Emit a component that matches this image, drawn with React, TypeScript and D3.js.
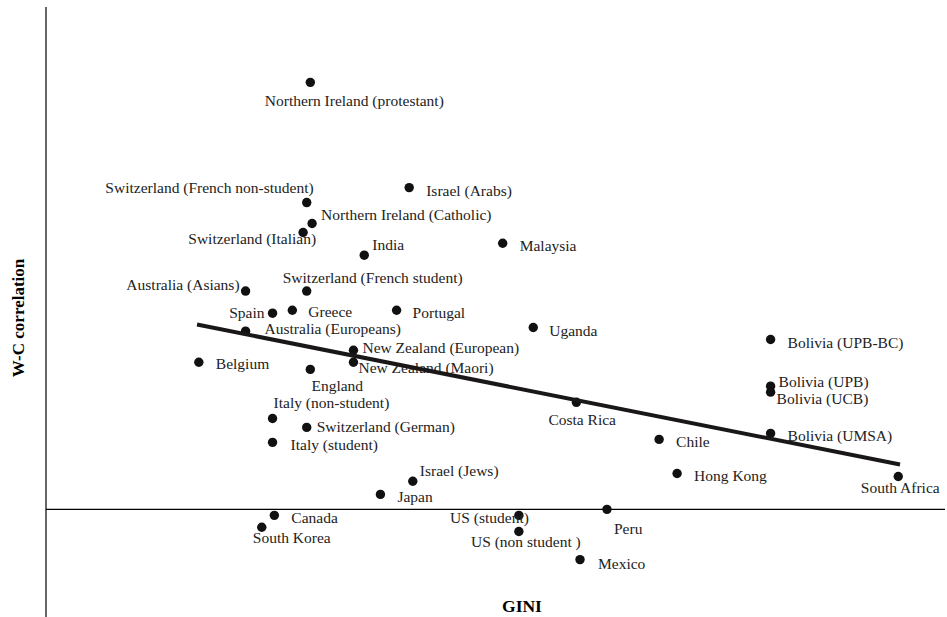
import React, { useEffect, useRef } from "react";
import * as d3 from "d3";

// samples, GINI index and within-culture (W-C) correlation
const names = [
  "Northern Ireland (protestant)", "Switzerland (French non-student)", "Israel (Arabs)",
  "Northern Ireland (Catholic)", "Switzerland (Italian)", "India", "Malaysia",
  "Australia (Asians)", "Switzerland (French student)", "Spain", "Greece", "Portugal",
  "Australia (Europeans)", "Uganda", "Bolivia (UPB-BC)", "Belgium", "New Zealand (European)",
  "New Zealand (Maori)", "England", "Bolivia (UPB)", "Bolivia (UCB)", "Costa Rica",
  "Italy (non-student)", "Switzerland (German)", "Bolivia (UMSA)", "Chile", "Italy (student)",
  "Hong Kong", "Israel (Jews)", "South Africa", "Japan", "Peru", "Canada", "US (student)",
  "South Korea", "US (non student )", "Mexico",
];
const gini = [
  29.7, 29.5, 35.2, 29.8, 29.3, 32.7, 40.4,
  26.1, 29.5, 27.6, 28.7, 34.5,
  26.1, 42.1, 55.3, 23.5, 32.1,
  32.1, 29.7, 55.3, 55.3, 44.5,
  27.6, 29.5, 55.3, 49.1, 27.6,
  50.1, 35.4, 62.4, 33.6, 46.2, 27.7, 41.3,
  27.0, 41.3, 44.7,
];
const wc = [
  0.714, 0.513, 0.538, 0.478, 0.463, 0.425, 0.445,
  0.365, 0.365, 0.328, 0.333, 0.333,
  0.298, 0.304, 0.284, 0.246, 0.266,
  0.246, 0.234, 0.206, 0.196, 0.179,
  0.152, 0.137, 0.127, 0.117, 0.112,
  0.06, 0.047, 0.055, 0.025, 0.0, -0.01, -0.01,
  -0.03, -0.037, -0.084,
];
// fitted line end points
const trendGini = [23.4, 62.5];
const trendWc = [0.309, 0.075];

// where each label sits relative to its dot: [dx, dy, anchor]
const labelPos: [number, number, string][] = [
  [44, 24, "middle"], [7, -10, "end"], [17, 8, "start"],
  [9, -3, "start"], [13, 12, "end"], [8, -5, "start"], [17, 8, "start"],
  [-6, -1, "end"], [-24, -8, "start"], [-8, 5, "end"], [16, 7, "start"], [16, 8, "start"],
  [19, 3, "start"], [16, 8, "start"], [17, 8, "start"], [17, 7, "start"], [9, 3, "start"],
  [5, 11, "start"], [27, 22, "middle"], [8, 1, "start"], [6, 12, "start"], [-28, 23, "start"],
  [1, -10, "start"], [10, 5, "start"], [17, 8, "start"], [17, 8, "start"], [18, 8, "start"],
  [17, 8, "start"], [7, -5, "start"], [2, 17, "middle"], [17, 8, "start"], [7, 25, "start"],
  [17, 8, "start"], [10, 8, "end"],
  [30, 16, "middle"], [7, 16, "middle"], [18, 9, "start"],
];

const serif = "'Liberation Serif', 'Times New Roman', serif";

function App() {
  const ref = useRef<SVGSVGElement>(null);
  const width = 947;
  const height = 617;

  useEffect(() => {
    const svg = d3.select(ref.current);
    svg.selectAll("*").remove();

    const x = d3.scaleLinear().domain([15, 65]).range([46, 945]);
    const y = d3.scaleLinear().domain([-0.18, 0.84]).range([617, 7]);

    // axes, plain lines without ticks
    svg.append("line")
      .attr("x1", x(15)).attr("x2", x(15))
      .attr("y1", y(0.84)).attr("y2", y(-0.18))
      .attr("stroke", "#000").attr("stroke-width", 1.2);
    svg.append("line")
      .attr("x1", x(15)).attr("x2", x(65))
      .attr("y1", y(0)).attr("y2", y(0))
      .attr("stroke", "#000").attr("stroke-width", 1.2);

    const data = names.map((n, i) => ({ name: n, g: gini[i], r: wc[i], pos: labelPos[i] }));

    svg.append("g")
      .selectAll("circle")
      .data(data)
      .enter()
      .append("circle")
        .attr("cx", d => x(d.g))
        .attr("cy", d => y(d.r))
        .attr("r", 4.7)
        .style("fill", "#111");

    svg.append("g")
      .selectAll("text")
      .data(data)
      .enter()
      .append("text")
        .attr("x", d => x(d.g) + d.pos[0])
        .attr("y", d => y(d.r) + d.pos[1])
        .attr("text-anchor", d => d.pos[2])
        .style("font-family", serif)
        .style("font-size", "15.5px")
        .style("fill", "#222")
        .text(d => d.name);

    // trend line drawn over the points
    const line = d3.line<number>()
      .x((d, i) => x(trendGini[i]))
      .y(d => y(d));
    svg.append("path")
      .attr("d", line(trendWc))
      .attr("fill", "none")
      .attr("stroke", "#1a1718")
      .attr("stroke-width", 4);

    svg.append("text")
      .attr("x", 522).attr("y", 612)
      .attr("text-anchor", "middle")
      .style("font-family", serif)
      .style("font-size", "17.5px")
      .style("font-weight", "bold")
      .text("GINI");

    svg.append("text")
      .attr("transform", "translate(24,318) rotate(-90)")
      .attr("text-anchor", "middle")
      .style("font-family", serif)
      .style("font-size", "17px")
      .style("font-weight", "bold")
      .text("W-C correlation");
  }, []);

  return (
    <svg
      ref={ref}
      width={width}
      height={height}
      style={{ position: "absolute", left: 0, top: 0, background: "#fff" }}
    />
  );
}

export default App;
